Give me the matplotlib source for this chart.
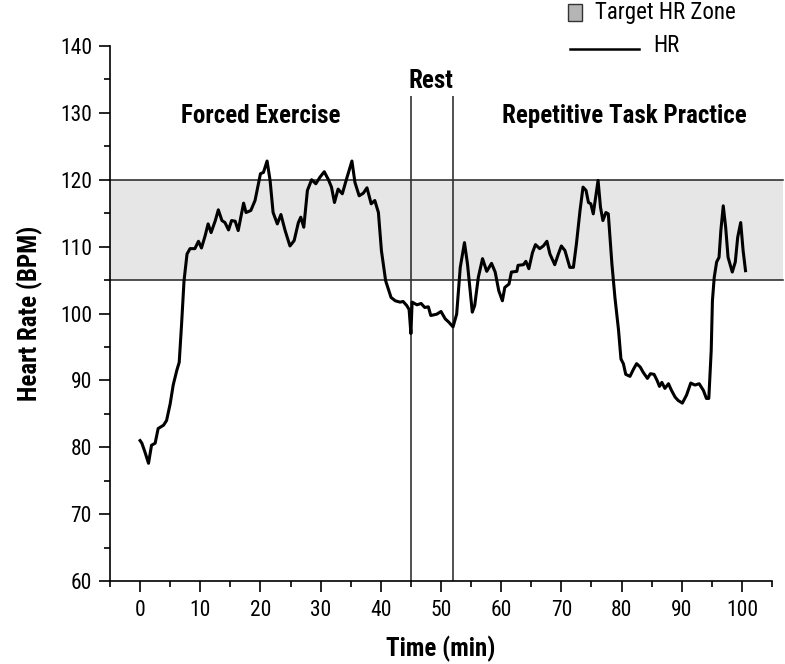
import matplotlib
matplotlib.use("Agg")
import matplotlib.pyplot as plt
from matplotlib import font_manager
from matplotlib.patches import Rectangle
from matplotlib.lines import Line2D

# pick a narrow sans if available
fam = "DejaVu Sans"
for cand in ["Liberation Sans Narrow", "Roboto Condensed", "DejaVu Sans"]:
    try:
        font_manager.findfont(cand, fallback_to_default=False)
        fam = cand
        break
    except Exception:
        pass
plt.rcParams["font.family"] = [fam, "DejaVu Sans"]

# heart rate trace (min, BPM)
time_min = [0.0, 0.3, 0.8, 1.4, 1.9, 2.5, 3.0, 3.9, 4.4, 5.0, 5.5, 6.1, 6.5, 6.9, 7.3, 7.8,
            8.3, 9.1, 9.7, 10.2, 10.8, 11.3, 11.8, 12.5, 13.0, 13.6, 14.1, 14.7, 15.2, 15.8,
            16.3, 17.2, 17.6, 18.4, 19.1, 19.7, 20.0, 20.5, 21.1, 21.6, 22.1, 22.8, 23.4,
            24.1, 24.9, 25.6, 26.3, 26.7, 27.2, 27.8, 28.5, 29.2, 29.9, 30.6, 31.3, 31.8,
            32.3, 32.9, 33.6, 34.3, 35.2, 35.7, 36.4, 37.1, 37.7, 38.4, 39.0, 39.6, 40.1,
            40.8, 41.7, 42.4, 43.2, 43.7, 44.3, 44.7, 45.0, 45.2, 46.0, 46.7, 47.3, 47.9,
            48.3, 49.3, 50.0, 50.7, 51.3, 52.0, 52.6, 53.2, 53.9, 54.4, 55.2, 55.6, 56.2,
            56.9, 57.6, 58.4, 59.0, 59.6, 60.2, 60.6, 61.3, 61.7, 62.6, 62.8, 63.7, 64.1,
            64.6, 65.2, 65.7, 66.4, 67.0, 67.6, 68.1, 68.9, 69.5, 70.0, 70.6, 71.4, 72.0,
            72.5, 73.1, 73.6, 74.1, 74.5, 74.9, 75.3, 75.7, 76.1, 76.5, 76.9, 77.4, 77.8,
            78.4, 78.9, 79.5, 79.9, 80.3, 80.7, 81.4, 82.0, 82.5, 83.1, 83.6, 84.3, 84.8,
            85.4, 85.9, 86.3, 86.7, 87.2, 87.8, 88.3, 88.9, 89.4, 90.1, 90.8, 91.5, 92.2,
            92.9, 93.6, 94.1, 94.5, 94.9, 95.1, 95.4, 95.8, 96.2, 96.5, 96.9, 97.3, 97.7,
            98.4, 98.9, 99.3, 99.8, 100.2, 100.6]
hr_bpm = [81.0, 80.6, 79.3, 77.6, 80.3, 80.6, 82.8, 83.3, 84.0, 86.5, 89.3, 91.5, 92.7, 98.5,
          104.9, 108.9, 109.7, 109.7, 110.8, 109.8, 111.6, 113.4, 112.1, 113.9, 115.5, 113.9,
          113.6, 112.5, 113.9, 113.8, 112.4, 116.5, 115.1, 115.4, 116.9, 119.6, 120.9, 121.1,
          122.8, 119.9, 115.1, 113.4, 114.8, 112.4, 110.1, 110.9, 113.6, 114.4, 112.9, 118.4,
          120.0, 119.4, 120.4, 121.2, 120.0, 118.9, 116.6, 118.6, 117.9, 120.1, 122.8, 119.6,
          117.6, 118.0, 118.8, 116.4, 116.9, 115.1, 109.4, 104.9, 102.4, 101.9, 101.7, 101.8,
          101.2, 100.6, 97.0, 101.7, 101.3, 101.5, 100.9, 101.0, 99.7, 99.9, 100.3, 99.2,
          98.7, 98.0, 99.9, 106.9, 110.6, 107.4, 100.2, 101.2, 105.4, 108.2, 106.3, 107.5,
          106.2, 103.4, 101.9, 103.9, 104.4, 106.2, 106.3, 107.2, 107.3, 107.8, 106.7, 109.1,
          110.3, 109.7, 110.1, 110.8, 108.9, 107.3, 108.9, 110.1, 109.4, 106.9, 106.9, 110.4,
          115.4, 118.9, 118.4, 116.6, 116.4, 114.9, 117.4, 119.9, 115.9, 113.9, 115.1, 114.9,
          107.4, 102.4, 97.5, 93.2, 92.5, 90.9, 90.6, 91.7, 92.5, 92.0, 91.2, 90.3, 91.0,
          90.9, 90.0, 89.1, 89.7, 88.8, 89.5, 88.5, 87.5, 87.0, 86.6, 87.8, 89.6, 89.3,
          89.5, 88.5, 87.3, 87.3, 94.5, 101.9, 105.4, 107.7, 108.4, 112.4, 116.1, 112.9,
          108.4, 106.2, 107.7, 111.4, 113.6, 109.4, 106.4]

zone_low, zone_high = 105, 120
phase_bounds = [45, 52]
phase_labels = ["Forced Exercise", "Rest", "Repetitive Task Practice"]
phase_label_x = [20, 48.3, 80.5]
phase_label_y = [129.6, 134.8, 129.6]

fig = plt.figure(figsize=(7.85, 6.64), dpi=100)
ax = fig.add_axes([110 / 785, 1 - 581 / 664, 662 / 785, 535 / 664])

# target zone band (runs a bit past the axis on the right)
ax.axhspan(zone_low, zone_high, xmin=0, xmax=1.017, facecolor="#e6e6e6",
           edgecolor="none", zorder=0, clip_on=False)
for yv in (zone_low, zone_high):
    ax.axhline(yv, xmin=0, xmax=1.017, color="#222222", lw=1.1, zorder=1, clip_on=False)

ax.vlines(phase_bounds, 60, 132.5, color="#333333", lw=1.2, zorder=2)
ax.plot(time_min, hr_bpm, color="black", lw=2.2, zorder=3, solid_joinstyle="round")

for lab, lx, ly in zip(phase_labels, phase_label_x, phase_label_y):
    ax.text(lx, ly, lab, ha="center", va="center", fontsize=18, fontweight="bold")

ax.set_xlim(-5, 105)
ax.set_ylim(60, 140)
ax.set_xticks(range(0, 101, 10))
ax.set_xticks(range(-5, 106, 10), minor=True)
ax.set_yticks(range(60, 141, 10))
ax.set_yticks(range(65, 140, 10), minor=True)
ax.tick_params(which="major", length=8, width=1.2, labelsize=15.5, direction="out")
ax.tick_params(which="minor", length=4.5, width=1.2, direction="out")
ax.tick_params(axis="x", which="major", pad=6)
ax.tick_params(axis="y", which="major", pad=5)
for s in ("top", "right"):
    ax.spines[s].set_visible(False)
for s in ("left", "bottom"):
    ax.spines[s].set_linewidth(1.2)

ax.set_xlabel("Time (min)", fontsize=18, fontweight="bold", labelpad=10)
ax.set_ylabel("Heart Rate (BPM)", fontsize=18, fontweight="bold", labelpad=12)

# legend drawn by hand in the top right corner
fig.patches.append(Rectangle((568 / 785, 1 - 21 / 664), 14 / 785, 17 / 664,
                             transform=fig.transFigure, facecolor="#b5b5b5",
                             edgecolor="#333333", lw=1))
fig.text(595 / 785, 1 - 12 / 664, "Target HR Zone", fontsize=16.5, va="center", ha="left")
fig.lines.append(Line2D([570 / 785, 639 / 785], [1 - 49 / 664, 1 - 49 / 664],
                        transform=fig.transFigure, color="black", lw=1.8))
fig.text(653 / 785, 1 - 46 / 664, "HR", fontsize=16.5, va="center", ha="left")

fig.savefig("out.png", dpi=100)
